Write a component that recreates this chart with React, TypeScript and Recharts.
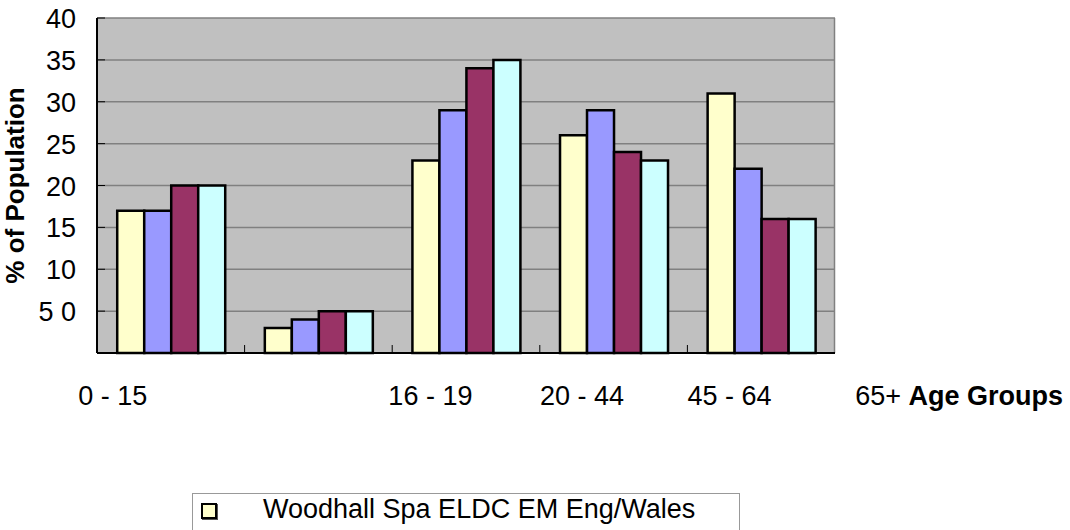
import React from "react";
import { BarChart, Bar, XAxis, YAxis, CartesianGrid } from "recharts";

const categories = ["0 - 15", "16 - 19", "20 - 44", "45 - 64", "65+"];
const woodhall = [17, 3, 23, 26, 31];
const eldc = [17, 4, 29, 29, 22];
const em = [20, 5, 34, 24, 16];
const engWales = [20, 5, 35, 23, 16];
const yTicks = [0, 5, 10, 15, 20, 25, 30, 35, 40];
const yTickLabels: Record<number, string> = { 0: "", 5: "5 0" };
const seriesNames = ["Woodhall Spa", "ELDC", "EM", "Eng/Wales"];
const colors = ["#FFFFCC", "#9999FF", "#993366", "#CCFFFF"];

const data = categories.map((c, i) => ({
  name: c,
  woodhall: woodhall[i],
  eldc: eldc[i],
  em: em[i],
  engWales: engWales[i],
}));

const FONT = "Liberation Sans, Arial, sans-serif";
const W = 1070;
const H = 530;
const plotLeft = 97;
const plotRight = 835;
const plotTop = 18;
const plotBottom = 353;
const band = (plotRight - plotLeft) / categories.length;
// label shifts as in the original (labels do not sit under their bars)
const labelShift = [-58, 112, 116, 116, 94];

const XTick = (props: any) => {
  const { x, payload, index } = props;
  const lx = x + labelShift[index];
  const last = index === categories.length - 1;
  return (
    <g>
      {!last && (
        <line x1={x + band / 2} x2={x + band / 2} y1={plotBottom} y2={plotBottom - 8} stroke="#000" strokeWidth={1} />
      )}
      <text x={lx} y={plotBottom + 52} textAnchor={last ? "start" : "middle"} fontSize={27} fill="#000" fontFamily={FONT}>
        {last ? (
          <>
            <tspan>{payload.value} </tspan>
            <tspan fontWeight="bold">Age Groups</tspan>
          </>
        ) : (
          payload.value
        )}
      </text>
    </g>
  );
};

const YTick = (props: any) => {
  const { y, payload } = props;
  const v = payload.value;
  const label = v in yTickLabels ? yTickLabels[v] : String(v);
  return (
    <g>
      <line x1={plotLeft} x2={plotLeft + 8} y1={y} y2={y} stroke="#000" strokeWidth={1} />
      <text x={76} y={y + 10} textAnchor="end" fontSize={27} fill="#000" fontFamily={FONT}>
        {label}
      </text>
    </g>
  );
};

export default function App() {
  return (
    <div style={{ position: "absolute", left: 0, top: 0, width: W, height: H, background: "#fff", overflow: "hidden" }}>
      <BarChart
        width={W}
        height={H}
        data={data}
        margin={{ top: plotTop, right: W - plotRight, left: 0, bottom: 0 }}
        barCategoryGap="13.7%"
        barGap={0}
      >
        <CartesianGrid
          fill="#C0C0C0"
          stroke="#808080"
          strokeWidth={1.5}
          vertical
          verticalPoints={[plotRight - 0.5]}
        />
        <XAxis
          dataKey="name"
          height={H - plotBottom}
          axisLine={{ stroke: "#000", strokeWidth: 2 }}
          tickLine={false}
          tick={<XTick />}
          interval={0}
        />
        <YAxis
          width={plotLeft}
          domain={[0, 40]}
          ticks={yTicks}
          axisLine={{ stroke: "#000", strokeWidth: 2 }}
          tickLine={false}
          tick={<YTick />}
          label={{
            value: "% of Population",
            angle: -90,
            position: "insideLeft",
            dx: 10,
            style: { fontWeight: "bold", fontSize: 26, fill: "#000", textAnchor: "middle", fontFamily: FONT },
          }}
        />
        <Bar dataKey="woodhall" name={seriesNames[0]} fill={colors[0]} stroke="#000" strokeWidth={2.5} isAnimationActive={false} />
        <Bar dataKey="eldc" name={seriesNames[1]} fill={colors[1]} stroke="#000" strokeWidth={2.5} isAnimationActive={false} />
        <Bar dataKey="em" name={seriesNames[2]} fill={colors[2]} stroke="#000" strokeWidth={2.5} isAnimationActive={false} />
        <Bar dataKey="engWales" name={seriesNames[3]} fill={colors[3]} stroke="#000" strokeWidth={2.5} isAnimationActive={false} />
      </BarChart>
      <div
        style={{
          position: "absolute",
          left: 192,
          top: 493,
          width: 548,
          height: 60,
          border: "1px solid #999",
          boxSizing: "border-box",
          fontFamily: FONT,
          fontSize: 27,
          color: "#000",
          background: "#fff",
        }}
      >
        <span
          style={{
            position: "absolute",
            left: 8,
            top: 9,
            width: 12,
            height: 12,
            background: colors[0],
            border: "2px solid #000",
            boxShadow: "1px 1px 0 #555",
          }}
        />
        <span style={{ position: "absolute", left: 70, top: 0, whiteSpace: "nowrap" }}>{seriesNames.join(" ")}</span>
      </div>
    </div>
  );
}
